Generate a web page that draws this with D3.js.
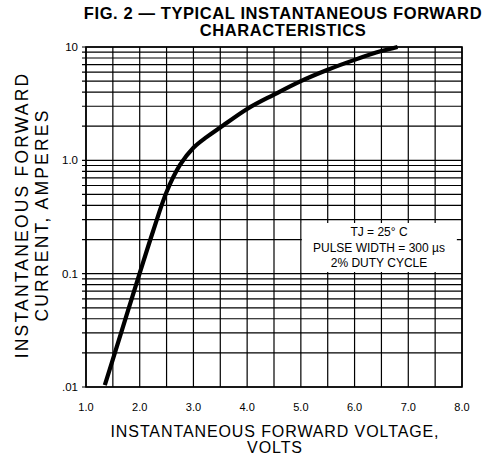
<!DOCTYPE html>
<html><head><meta charset="utf-8">
<script src="https://cdn.jsdelivr.net/npm/d3@7"></script>
<style>
body{margin:0;background:#fff;}
text{font-family:"Liberation Sans",Arial,Helvetica,sans-serif;fill:#000;}
</style></head>
<body>
<svg id="chart" width="492" height="457"></svg>
<script>
// Data
const voltage = [1.35, 1.5, 1.75, 2.0, 2.25, 2.5, 2.75, 3.0, 3.25, 3.5, 4.0, 4.5, 5.0, 5.5, 6.0, 6.5, 6.8];
const current = [0.0104, 0.0175, 0.0423, 0.101, 0.238, 0.526, 0.91, 1.29, 1.61, 1.95, 2.84, 3.8, 5.0, 6.3, 7.7, 9.2, 10.0];
const xTicks = [1, 2, 3, 4, 5, 6, 7, 8];
const xTickLabels = ["1.0", "2.0", "3.0", "4.0", "5.0", "6.0", "7.0", "8.0"];
const yTicks = [0.01, 0.1, 1, 10];
const yTickLabels = [".01", "0.1", "1.0", "10"];
const titleLines = ["FIG. 2 — TYPICAL INSTANTANEOUS FORWARD", "CHARACTERISTICS"];
const xTitleLines = ["INSTANTANEOUS FORWARD VOLTAGE,", "VOLTS"];
const yTitleLines = ["INSTANTANEOUS FORWARD", "CURRENT, AMPERES"];
const noteLines = ["TJ = 25° C", "PULSE WIDTH = 300 µs", "2% DUTY CYCLE"];

const svg = d3.select("#chart");
const L = 86, R = 462, T = 47, B = 387;
const x = d3.scaleLinear().domain([1, 8]).range([L, R]);
const y = d3.scaleLog().domain([0.01, 10]).range([B, T]);

// grid
const vGrid = d3.range(1, 8.001, 0.5);
const hGrid = [];
[0.01, 0.1, 1].forEach(d => { for (let k = 1; k <= 9; k++) hGrid.push(d * k); });
hGrid.push(10);

const g = svg.append("g");
g.selectAll(".hg").data(hGrid).enter().append("line")
  .attr("x1", L - 4).attr("x2", R)
  .attr("y1", d => y(d)).attr("y2", d => y(d))
  .attr("stroke", "#000").attr("stroke-width", 1.2);
g.selectAll(".vg").data(vGrid).enter().append("line")
  .attr("x1", d => x(d)).attr("x2", d => x(d))
  .attr("y1", T).attr("y2", B)
  .attr("stroke", "#000").attr("stroke-width", 1.2);
g.append("rect").attr("x", L).attr("y", T).attr("width", R - L).attr("height", B - T)
  .attr("fill", "none").attr("stroke", "#000").attr("stroke-width", 1.6);

// annotation box
const bx = x(5) + 1, by = 223, bw = 155, bh = 49;
svg.append("rect").attr("x", bx).attr("y", by).attr("width", bw).attr("height", bh).attr("fill", "#fff");
svg.selectAll(".note").data(noteLines).enter().append("text")
  .attr("x", 379).attr("y", (d, i) => 236 + i * 15.5)
  .attr("text-anchor", "middle").attr("font-size", 12).text(d => d);

// curve
const pts = voltage.map((v, i) => [v, current[i]]);
svg.append("path").datum(pts)
  .attr("d", d3.line().x(d => x(d[0])).y(d => y(d[1])).curve(d3.curveCatmullRom.alpha(0.5)))
  .attr("fill", "none").attr("stroke", "#000").attr("stroke-width", 4.2).attr("stroke-linecap", "butt");

// tick labels
svg.selectAll(".xl").data(xTicks).enter().append("text")
  .attr("x", d => x(d)).attr("y", 411).attr("text-anchor", "middle")
  .attr("font-size", 11).text((d, i) => xTickLabels[i]);
svg.selectAll(".yl").data(yTicks).enter().append("text")
  .attr("x", 78).attr("y", d => y(d) + 4).attr("text-anchor", "end")
  .attr("font-size", 11.5).text((d, i) => yTickLabels[i]);

// titles
svg.selectAll(".tt").data(titleLines).enter().append("text")
  .attr("x", 283).attr("y", (d, i) => 18.5 + i * 17).attr("text-anchor", "middle")
  .attr("font-size", 16.5).attr("font-weight", "bold").attr("letter-spacing", 0.6).text(d => d);
svg.selectAll(".xt").data(xTitleLines).enter().append("text")
  .attr("x", 275).attr("y", (d, i) => 437 + i * 16).attr("text-anchor", "middle")
  .attr("font-size", 16).attr("letter-spacing", 0.9).text(d => d);
svg.selectAll(".yt").data(yTitleLines).enter().append("text")
  .attr("transform", (d, i) => `translate(${28 + i * 20},215) rotate(-90)`)
  .attr("text-anchor", "middle").attr("font-size", 17.5).attr("letter-spacing", 2.2).text(d => d);
</script>
</body></html>
